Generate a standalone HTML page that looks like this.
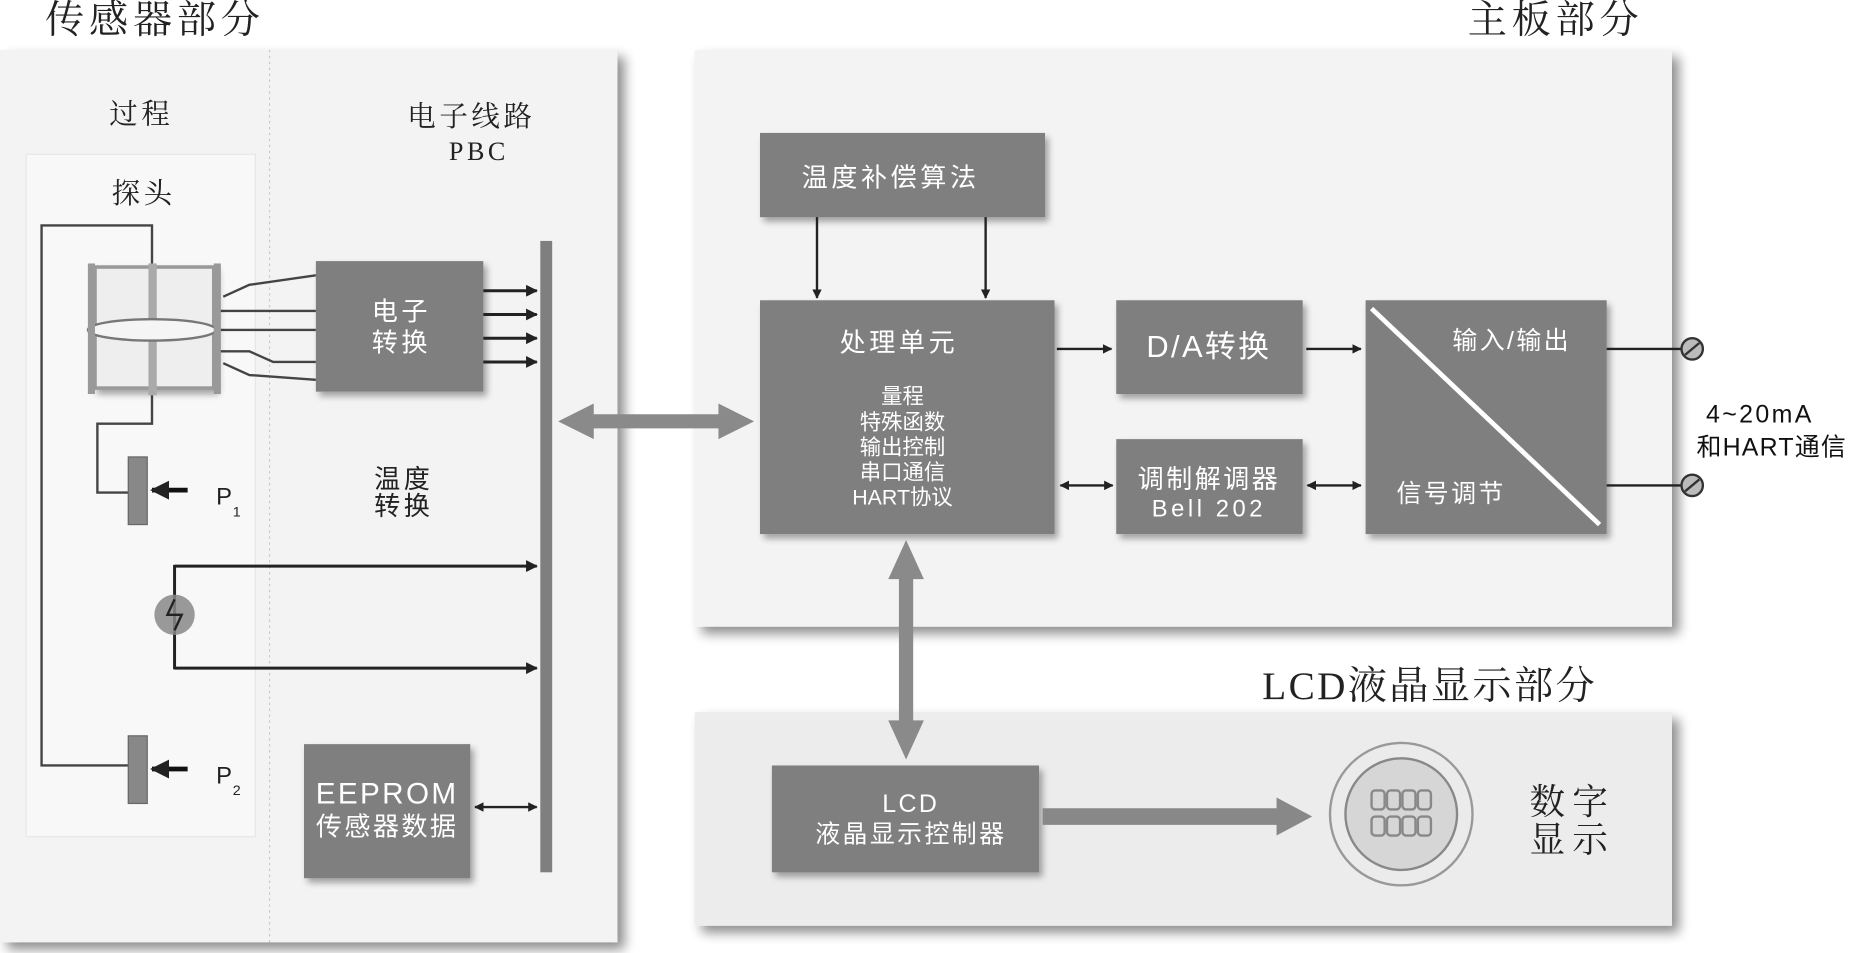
<!DOCTYPE html>
<html><head><meta charset="utf-8"><style>
html,body{margin:0;padding:0;background:#fff;width:1862px;height:953px;overflow:hidden}
svg{display:block}
.serif{font-family:"Liberation Serif","Noto Serif CJK SC",serif}
.sans{font-family:"Liberation Sans","Noto Sans CJK SC",sans-serif}
</style></head><body>
<svg width="1862" height="953" viewBox="0 0 1568 803" preserveAspectRatio="none" xmlns="http://www.w3.org/2000/svg">
<defs>
<filter id="sh" x="-10%" y="-10%" width="130%" height="130%"><feGaussianBlur in="SourceAlpha" stdDeviation="5"/><feOffset dx="6" dy="6"/><feComponentTransfer><feFuncA type="linear" slope="0.45"/></feComponentTransfer><feMerge><feMergeNode/><feMergeNode in="SourceGraphic"/></feMerge></filter>
<filter id="sh2" x="-10%" y="-10%" width="130%" height="130%"><feGaussianBlur in="SourceAlpha" stdDeviation="3"/><feOffset dx="3" dy="4"/><feComponentTransfer><feFuncA type="linear" slope="0.35"/></feComponentTransfer><feMerge><feMergeNode/><feMergeNode in="SourceGraphic"/></feMerge></filter>
<marker id="ah" viewBox="0 0 10 10" refX="9" refY="5" markerWidth="4" markerHeight="4" orient="auto-start-reverse"><path d="M0,0L10,5L0,10z" fill="#222"/></marker>
</defs>
<!-- titles -->
<text x="38" y="28" class="serif" font-size="33" fill="#222" letter-spacing="4">传感器部分</text>
<text x="1236" y="28" class="serif" font-size="33" fill="#222" letter-spacing="4">主板部分</text>
<text x="1063" y="589" class="serif" font-size="33" fill="#222" letter-spacing="2">LCD液晶显示部分</text>

<!-- left panel -->
<rect x="0" y="42" width="520" height="752" fill="#f3f3f3" filter="url(#sh)"/>
<rect x="22" y="130" width="193" height="575" fill="#f8f8f8" stroke="#e6e6e6"/>
<line x1="227" y1="42" x2="227" y2="794" stroke="#c8c8c8" stroke-dasharray="2,3"/>
<text x="92" y="104" class="serif" font-size="24" fill="#222" letter-spacing="3">过程</text>
<text x="343" y="106" class="serif" font-size="24" fill="#222" letter-spacing="3">电子线路</text>
<text x="378" y="135" class="serif" font-size="22" fill="#222" letter-spacing="3">PBC</text>
<text x="94" y="171" class="serif" font-size="24" fill="#222" letter-spacing="3">探头</text>

<!-- wires -->
<g fill="none" stroke="#444" stroke-width="2">
<polyline points="128,222 128,190 35,190 35,645 108,645"/>
<polyline points="128,333 128,357 82,357 82,415 108,415"/>
<polyline points="188,250 210,240 266,232"/>
<polyline points="160,276 175,262 188,262 210,262 266,262" />
<polyline points="185,278 266,278"/>
<polyline points="160,282 175,296 210,296 230,305 266,305"/>
<polyline points="188,306 210,316 266,320"/>
</g>
<!-- sensor -->
<g filter="url(#sh2)">
<rect x="80" y="225" width="100" height="102" fill="#eeeeee" stroke="#999" stroke-width="3"/>
</g>
<rect x="125" y="222" width="7" height="111" fill="#aaa"/>
<ellipse cx="128" cy="278" rx="54" ry="9" fill="#f5f5f5" stroke="#777" stroke-width="2"/>
<rect x="74" y="222" width="6" height="110" fill="#999"/>
<rect x="180" y="222" width="6" height="110" fill="#999"/>

<!-- electron convert -->
<rect x="266" y="220" width="141" height="110" fill="#7f7f7f" filter="url(#sh2)"/>
<text x="338" y="270" class="sans" font-size="22" fill="#fff" text-anchor="middle" letter-spacing="3">电子</text>
<text x="338" y="296" class="sans" font-size="22" fill="#fff" text-anchor="middle" letter-spacing="3">转换</text>
<g stroke="#222" stroke-width="2.5" marker-end="url(#ah)">
<line x1="407" y1="245" x2="452" y2="245"/><line x1="407" y1="265" x2="452" y2="265"/>
<line x1="407" y1="285" x2="452" y2="285"/><line x1="407" y1="305" x2="452" y2="305"/>
<line x1="147" y1="477" x2="452" y2="477"/><line x1="147" y1="563" x2="452" y2="563"/>
</g>
<line x1="147" y1="476" x2="147" y2="564" stroke="#222" stroke-width="2.5"/>
<circle cx="147" cy="518" r="17" fill="#888" opacity="0.85"/>
<path d="M147,505 L141,518 L153,518 L147,531" stroke="#222" stroke-width="2" fill="none"/>
<rect x="455" y="203" width="10" height="532" fill="#7f7f7f"/>
<text x="340" y="411" class="sans" font-size="22" fill="#222" text-anchor="middle" letter-spacing="3">温度</text>
<text x="340" y="434" class="sans" font-size="22" fill="#222" text-anchor="middle" letter-spacing="3">转换</text>

<!-- P1/P2 -->
<rect x="108" y="385" width="16" height="57" fill="#888" stroke="#666"/>
<rect x="108" y="620" width="16" height="57" fill="#888" stroke="#666"/>
<g stroke="#111" stroke-width="4" marker-end="url(#ah)">
<line x1="158" y1="413" x2="128" y2="413"/><line x1="158" y1="648" x2="128" y2="648"/>
</g>
<text x="182" y="425" class="sans" font-size="20" fill="#222">P</text><text x="196" y="435" class="sans" font-size="12" fill="#222">1</text>
<text x="182" y="660" class="sans" font-size="20" fill="#222">P</text><text x="196" y="670" class="sans" font-size="12" fill="#222">2</text>

<!-- EEPROM -->
<rect x="256" y="627" width="140" height="113" fill="#7f7f7f" filter="url(#sh2)"/>
<text x="326" y="677" class="sans" font-size="25" fill="#fff" text-anchor="middle" letter-spacing="2">EEPROM</text>
<text x="326" y="704" class="sans" font-size="22" fill="#fff" text-anchor="middle" letter-spacing="2">传感器数据</text>
<line x1="400" y1="680" x2="452" y2="680" stroke="#222" stroke-width="2" marker-start="url(#ah)" marker-end="url(#ah)"/>

<!-- main panel -->
<rect x="585" y="42" width="823" height="486" fill="#f3f3f3" filter="url(#sh)"/>
<path d="M470,355 L500,340 L500,349 L605,349 L605,340 L635,355 L605,370 L605,361 L500,361 L500,370 Z" fill="#8a8a8a"/>

<rect x="640" y="112" width="240" height="71" fill="#7f7f7f" filter="url(#sh2)"/>
<text x="750" y="157" class="sans" font-size="22" fill="#fff" text-anchor="middle" letter-spacing="3">温度补偿算法</text>
<g stroke="#222" stroke-width="2" marker-end="url(#ah)">
<line x1="688" y1="183" x2="688" y2="251"/><line x1="830" y1="183" x2="830" y2="251"/>
<line x1="890" y1="294" x2="936" y2="294"/><line x1="1100" y1="294" x2="1146" y2="294"/>
</g>
<g stroke="#222" stroke-width="2" marker-start="url(#ah)" marker-end="url(#ah)">
<line x1="893" y1="409" x2="937" y2="409"/><line x1="1101" y1="409" x2="1146" y2="409"/>
</g>

<rect x="640" y="253" width="248" height="197" fill="#7f7f7f" filter="url(#sh2)"/>
<text x="757" y="296" class="sans" font-size="22" fill="#fff" text-anchor="middle" letter-spacing="3">处理单元</text>
<g class="sans" font-size="18" fill="#fff" text-anchor="middle">
<text x="760" y="340">量程</text><text x="760" y="362">特殊函数</text><text x="760" y="383">输出控制</text><text x="760" y="404">串口通信</text><text x="760" y="425">HART协议</text>
</g>

<rect x="940" y="253" width="157" height="79" fill="#7f7f7f" filter="url(#sh2)"/>
<text x="1018" y="301" class="sans" font-size="26" fill="#fff" text-anchor="middle" letter-spacing="2">D/A转换</text>
<rect x="940" y="370" width="157" height="80" fill="#7f7f7f" filter="url(#sh2)"/>
<text x="1018" y="411" class="sans" font-size="22" fill="#fff" text-anchor="middle" letter-spacing="2">调制解调器</text>
<text x="1018" y="435" class="sans" font-size="20" fill="#fff" text-anchor="middle" letter-spacing="3">Bell 202</text>

<rect x="1150" y="253" width="203" height="197" fill="#7f7f7f" filter="url(#sh2)"/>
<line x1="1155" y1="260" x2="1347" y2="442" stroke="#fff" stroke-width="4"/>
<text x="1273" y="294" class="sans" font-size="21" fill="#fff" text-anchor="middle" letter-spacing="2">输入/输出</text>
<text x="1222" y="423" class="sans" font-size="21" fill="#fff" text-anchor="middle" letter-spacing="2">信号调节</text>

<g stroke="#222" stroke-width="2"><line x1="1353" y1="294" x2="1418" y2="294"/><line x1="1353" y1="409" x2="1418" y2="409"/></g>
<g fill="#bbb" stroke="#333" stroke-width="2"><circle cx="1425" cy="294" r="9"/><circle cx="1425" cy="409" r="9"/></g>
<g stroke="#333" stroke-width="2"><line x1="1419" y1="299" x2="1431" y2="289"/><line x1="1419" y1="414" x2="1431" y2="404"/></g>
<text x="1482" y="356" class="sans" font-size="21" fill="#111" text-anchor="middle" letter-spacing="2">4~20mA</text>
<text x="1492" y="384" class="sans" font-size="21" fill="#111" text-anchor="middle" letter-spacing="1">和HART通信</text>

<!-- LCD panel -->
<rect x="585" y="600" width="823" height="180" fill="#ececec" filter="url(#sh)"/>
<path d="M763,455 L778,488 L769,488 L769,607 L778,607 L763,640 L748,607 L757,607 L757,488 L748,488 Z" fill="#8a8a8a"/>
<rect x="650" y="645" width="225" height="90" fill="#7f7f7f" filter="url(#sh2)"/>
<text x="767" y="684" class="sans" font-size="21" fill="#fff" text-anchor="middle" letter-spacing="2">LCD</text>
<text x="767" y="710" class="sans" font-size="21" fill="#fff" text-anchor="middle" letter-spacing="2">液晶显示控制器</text>
<path d="M878,681 L1075,681 L1075,672 L1105,688 L1075,704 L1075,695 L878,695 Z" fill="#888"/>
<circle cx="1180" cy="686" r="60" fill="#ebebeb" stroke="#999" stroke-width="2"/>
<circle cx="1180" cy="686" r="47" fill="#d6d6d6" stroke="#888" stroke-width="2"/>
<g fill="none" stroke="#888" stroke-width="2">
<rect x="1155" y="666" width="11" height="16" rx="3"/><rect x="1168" y="666" width="11" height="16" rx="3"/><rect x="1181" y="666" width="11" height="16" rx="3"/><rect x="1194" y="666" width="11" height="16" rx="3"/>
<rect x="1155" y="688" width="11" height="16" rx="3"/><rect x="1168" y="688" width="11" height="16" rx="3"/><rect x="1181" y="688" width="11" height="16" rx="3"/><rect x="1194" y="688" width="11" height="16" rx="3"/>
</g>
<text x="1288" y="686" class="serif" font-size="30" fill="#222" letter-spacing="6">数字</text>
<text x="1288" y="718" class="serif" font-size="30" fill="#222" letter-spacing="6">显示</text>
</svg>
</body></html>
